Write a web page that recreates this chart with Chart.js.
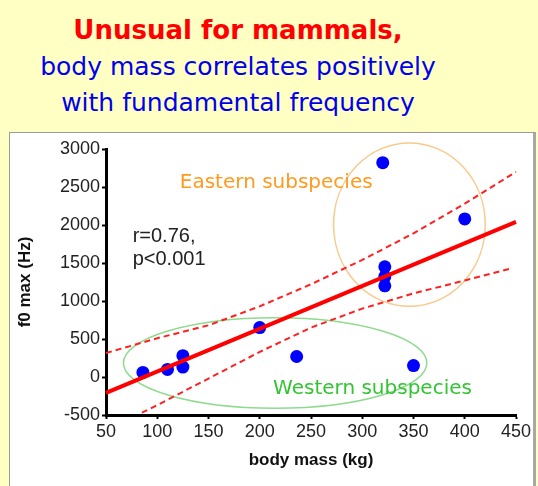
<!DOCTYPE html>
<html>
<head>
<meta charset="utf-8">
<script src="https://cdn.jsdelivr.net/npm/chart.js@4"></script>
<style>
  html, body { margin: 0; padding: 0; }
  body { width: 538px; height: 486px; background: #FFFFC4; position: relative; overflow: hidden; }
  .head { position: absolute; left: 0; top: 0; width: 476px; text-align: center; font-family: "DejaVu Sans", sans-serif; }
  .head .l1 { position: absolute; left: 0; width: 476px; top: 15px; font-size: 26px; font-weight: bold; color: #FF0000; }
  .head .l2 { position: absolute; left: 0; width: 476px; top: 52px; font-size: 25px; color: #0000EE; }
  .head .l3 { position: absolute; left: 0; width: 476px; top: 88px; font-size: 25px; color: #0000EE; }
  .box { position: absolute; left: 9px; top: 132px; width: 523px; height: 400px; background: #fff; border-left: 1px solid #9a9a9a; border-top: 1px solid #9a9a9a; border-right: 3px solid #a8a8a8; }
  canvas { position: absolute; left: 0; top: 0; }
</style>
</head>
<body>
<div class="head">
  <div class="l1">Unusual for mammals,</div>
  <div class="l2">body mass correlates positively</div>
  <div class="l3">with fundamental frequency</div>
</div>
<div class="box"></div>
<canvas id="myChart" width="538" height="486"></canvas>
<script>
// measured points
const massKg = [86, 110, 125, 125, 200, 236, 350, 320, 400, 322, 322, 322];
const f0MaxHz = [60, 100, 280, 130, 650, 270, 150, 2820, 2080, 1450, 1320, 1200];

// regression line
const fitMass = [50, 450];
const fitHz = [-210, 2040];

// confidence bands (dashed)
const upperMass = [50, 100, 150, 200, 250, 300, 350, 400, 450];
const upperHz = [315, 510, 680, 930, 1220, 1540, 1890, 2280, 2700];
const lowerMass = [85, 100, 150, 200, 250, 300, 350, 400, 446];
const lowerHz = [-470, -370, -20, 330, 650, 900, 1100, 1270, 1430];

// axis ticks
const xTicks = [50, 100, 150, 200, 250, 300, 350, 400, 450];
const yTicks = [-500, 0, 500, 1000, 1500, 2000, 2500, 3000];

// group outlines: centre x, centre y, radius x (kg), radius y (Hz)
const eastGroup = [346, 2005, 74, 1075];
const westGroup = [215, 185, 148, 595];

function toXY(xs, ys) {
    let out = [];
    for (let i = 0; i < xs.length; i++) {
        out.push({ x: xs[i], y: ys[i] });
    }
    return out;
}

const notesPlugin = {
    id: 'notes',
    beforeDatasetsDraw(chart) {
        const ctx = chart.ctx;
        const xs = chart.scales.x;
        const ys = chart.scales.y;
        const drawOval = (g, color) => {
            const cx = xs.getPixelForValue(g[0]);
            const cy = ys.getPixelForValue(g[1]);
            const rx = Math.abs(xs.getPixelForValue(g[0] + g[2]) - cx);
            const ry = Math.abs(ys.getPixelForValue(g[1] + g[3]) - cy);
            ctx.save();
            ctx.beginPath();
            ctx.ellipse(cx, cy, rx, ry, 0, 0, Math.PI * 2);
            ctx.strokeStyle = color;
            ctx.lineWidth = 1.5;
            ctx.stroke();
            ctx.restore();
        };
        drawOval(eastGroup, '#F9C98C');
        drawOval(westGroup, '#8EDB8E');
    },
    afterDraw(chart) {
        const ctx = chart.ctx;
        const xs = chart.scales.x;
        const ys = chart.scales.y;
        ctx.save();
        ctx.textBaseline = 'middle';
        ctx.textAlign = 'left';
        ctx.font = '20px "DejaVu Sans", sans-serif';
        ctx.fillStyle = '#FF9A1E';
        ctx.fillText('Eastern subspecies', xs.getPixelForValue(122), ys.getPixelForValue(2560));
        ctx.fillStyle = '#33C433';
        ctx.fillText('Western subspecies', xs.getPixelForValue(213), ys.getPixelForValue(-150));
        ctx.font = '20px "Liberation Sans", Arial, sans-serif';
        ctx.fillStyle = '#222';
        ctx.fillText('r=0.76,', xs.getPixelForValue(76), ys.getPixelForValue(1850));
        ctx.fillText('p<0.001', xs.getPixelForValue(76), ys.getPixelForValue(1550));
        ctx.restore();
    }
};

var ctx = document.getElementById('myChart').getContext('2d');
var myChart = new Chart(ctx, {
    type: 'scatter',
    data: {
        datasets: [{
                data: toXY(fitMass, fitHz),
                showLine: true,
                borderColor: '#FF0000',
                borderWidth: 4,
                pointRadius: 0
            },
            {
                data: toXY(upperMass, upperHz),
                showLine: true,
                borderColor: '#FF2020',
                borderWidth: 2,
                borderDash: [6, 4],
                pointRadius: 0
            },
            {
                data: toXY(lowerMass, lowerHz),
                showLine: true,
                borderColor: '#FF2020',
                borderWidth: 2,
                borderDash: [6, 4],
                pointRadius: 0
            },
            {
                data: toXY(massKg, f0MaxHz),
                showLine: false,
                pointRadius: 6.5,
                pointBackgroundColor: '#0000FF',
                pointBorderWidth: 0,
                borderColor: '#0000FF'
            }
        ]
    },
    options: {
        responsive: false,
        animation: false,
        clip: false,
        layout: { padding: { left: 0, right: 22, top: 149, bottom: 11 } },
        plugins: {
            legend: { display: false },
            tooltip: { enabled: false }
        },
        elements: { line: { tension: 0 } },
        scales: {
            x: {
                type: 'linear',
                min: 50,
                max: 450,
                afterFit: (s) => { s.height = 60; },
                afterBuildTicks: (s) => { s.ticks = xTicks.map(v => ({ value: v })); },
                grid: { drawOnChartArea: false, drawTicks: true, tickLength: 4, tickColor: '#000', tickWidth: 2 },
                border: { color: '#000', width: 3 },
                ticks: { padding: 2, color: '#222', font: { family: 'Liberation Sans', size: 18 }, callback: (v) => String(v) },
                title: {
                    display: true,
                    text: 'body mass (kg)',
                    color: '#111',
                    padding: { top: 0, bottom: 4 },
                    font: { family: 'Liberation Sans', size: 17, weight: 'bold' }
                }
            },
            y: {
                type: 'linear',
                min: -500,
                max: 3000,
                afterFit: (s) => { s.width = 106; },
                afterBuildTicks: (s) => { s.ticks = yTicks.map(v => ({ value: v })); },
                grid: { drawOnChartArea: false, drawTicks: true, tickLength: 4, tickColor: '#000', tickWidth: 2 },
                border: { color: '#000', width: 3 },
                ticks: { padding: 2, color: '#222', font: { family: 'Liberation Sans', size: 18 }, callback: (v) => String(v) },
                title: {
                    display: true,
                    text: 'f0 max (Hz)',
                    color: '#111',
                    padding: { top: 15, bottom: 0 },
                    font: { family: 'Liberation Sans', size: 17, weight: 'bold' }
                }
            }
        }
    },
    plugins: [notesPlugin]
});
</script>
</body>
</html>
